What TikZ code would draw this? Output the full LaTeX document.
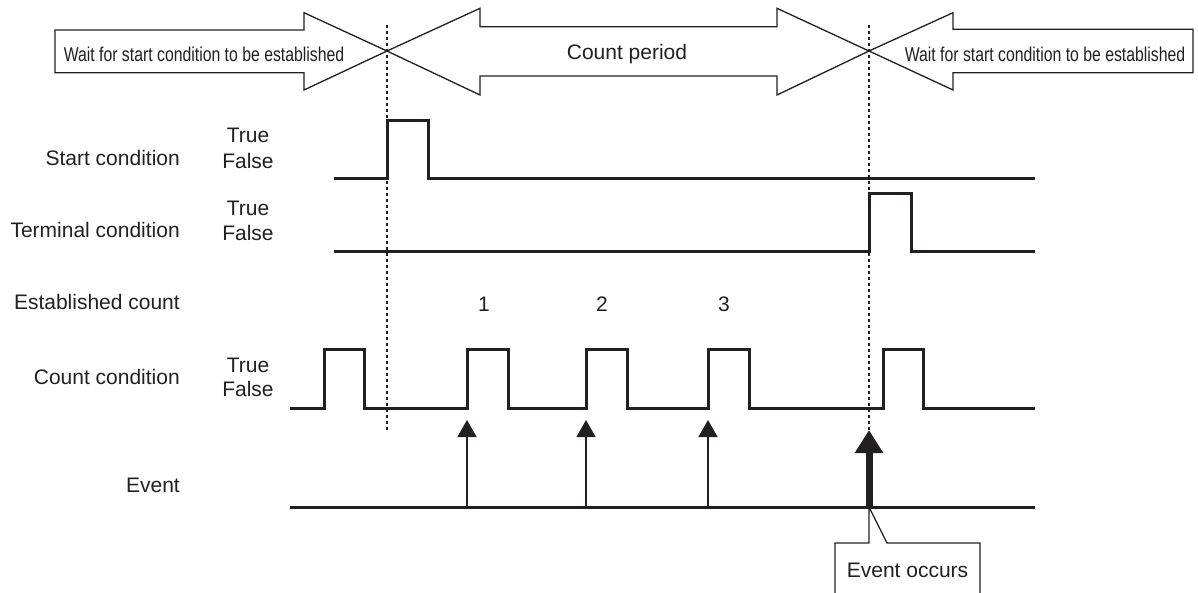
\documentclass[tikz,border=0pt]{standalone}
\usepackage{fontspec}
\setmainfont{Liberation Sans}
\newfontfamily\narrowfont[FakeStretch=0.79]{Liberation Sans}
\usetikzlibrary{arrows.meta}
\definecolor{ink}{HTML}{231F20}
\tikzset{
  blockarrow/.style={draw=ink, line width=1.3pt, fill=white, line join=miter},
  guide/.style={draw=ink, line width=1.3pt, dash pattern=on 3pt off 3pt},
  signal/.style={draw=ink, line width=3pt, line join=miter},
  lbl/.style={text=ink, font=\fontsize{21}{25}\selectfont, inner sep=0pt, anchor=east},
  tf/.style={text=ink, font=\fontsize{21}{25}\selectfont, inner sep=0pt, anchor=center},
  waittxt/.style={text=ink, font=\narrowfont\fontsize{20}{24}\selectfont, inner sep=0pt},
  thinarrow/.style={draw=ink, line width=1.4pt, -{Triangle[length=17pt,width=19pt]}, color=ink},
  thickarrow/.style={draw=ink, line width=7pt, -{Triangle[length=23pt,width=27pt]}, color=ink},
  callout/.style={draw=ink, line width=1.3pt, line join=miter}
}
\begin{document}
\begin{tikzpicture}[x=1pt,y=-1pt]
\useasboundingbox (0,0) rectangle (1198,592);

% guide lines
\coordinate (g1top) at (387,25);
\coordinate (g1bot) at (387,430);
\coordinate (g2top) at (869,25);
\coordinate (g2bot) at (869,430);
\draw[guide] (g1top) -- (g1bot);
\draw[guide] (g2top) -- (g2bot);

% block arrows
\draw[blockarrow] (55,30) -- (304,30) -- (304,12.7) -- (387,51) -- (304,90) -- (304,72.7) -- (55,72.7) -- cycle;
\draw[blockarrow] (387,51) -- (480,8.3) -- (480,26.7) -- (777,26.7) -- (777,8.3) -- (869,51) -- (777,95) -- (777,76) -- (480,76) -- (480,95) -- cycle;
\draw[blockarrow] (869,51) -- (953,12.7) -- (953,29.3) -- (1193,29.3) -- (1193,72.7) -- (953,72.7) -- (953,90) -- cycle;
\draw[guide] (387,25) -- (387,95);
\draw[guide] (869,25) -- (869,95);

\node[waittxt] (wait1) at (204,54) {Wait for start condition to be established};
\node[tf] (count) at (627,54) {Count period};
\node[waittxt] (wait2) at (1045,54) {Wait for start condition to be established};

% row labels
\node[lbl] (lstart) at (180,158) {Start condition};
\node[tf] (t1) at (248,135) {True};
\node[tf] (f1) at (248,161) {False};
\node[lbl] (lterm) at (180,230) {Terminal condition};
\node[tf] (t2) at (248,208) {True};
\node[tf] (f2) at (248,233) {False};
\node[lbl] (lest) at (180,302) {Established count};
\node[tf] (n1) at (484,304) {1};
\node[tf] (n2) at (602,304) {2};
\node[tf] (n3) at (724,304) {3};
\node[lbl] (lcount) at (180,377) {Count condition};
\node[tf] (t3) at (248,365) {True};
\node[tf] (f3) at (248,389) {False};
\node[lbl] (levent) at (180,485) {Event};

% signals
\draw[signal] (334,178.3) -- (387,178.3) -- (387,120.7) -- (428,120.7) -- (428,178.3) -- (1035,178.3);
\draw[signal] (334,251) -- (869,251) -- (869,193.3) -- (911,193.3) -- (911,251) -- (1035,251);
\draw[signal] (290,408) -- (324,408) -- (324,349.5) -- (364,349.5) -- (364,408)
  -- (467,408) -- (467,349.5) -- (508,349.5) -- (508,408)
  -- (586,408) -- (586,349.5) -- (627,349.5) -- (627,408)
  -- (708,408) -- (708,349.5) -- (749,349.5) -- (749,408)
  -- (883,408) -- (883,349.5) -- (923,349.5) -- (923,408) -- (1035,408);
\coordinate (evL) at (290,507);
\coordinate (evR) at (1035,507);
\draw[signal] (evL) -- (evR);

% event arrows
\coordinate (a1s) at (467,507); \coordinate (a1e) at (467,420);
\coordinate (a2s) at (586,507); \coordinate (a2e) at (586,420);
\coordinate (a3s) at (708,507); \coordinate (a3e) at (708,420);
\coordinate (a4s) at (869,507); \coordinate (a4e) at (869,430);
\draw[thinarrow] (a1s) -- (a1e);
\draw[thinarrow] (a2s) -- (a2e);
\draw[thinarrow] (a3s) -- (a3e);
\draw[thickarrow] (a4s) -- (a4e);

% callout
\draw[callout] (835,600) -- (835,543) -- (869,543) -- (a4s) -- (887,543) -- (980,543) -- (980,600);
\node[tf] (occurs) at (907.5,570) {Event occurs};
\end{tikzpicture}
\end{document}
